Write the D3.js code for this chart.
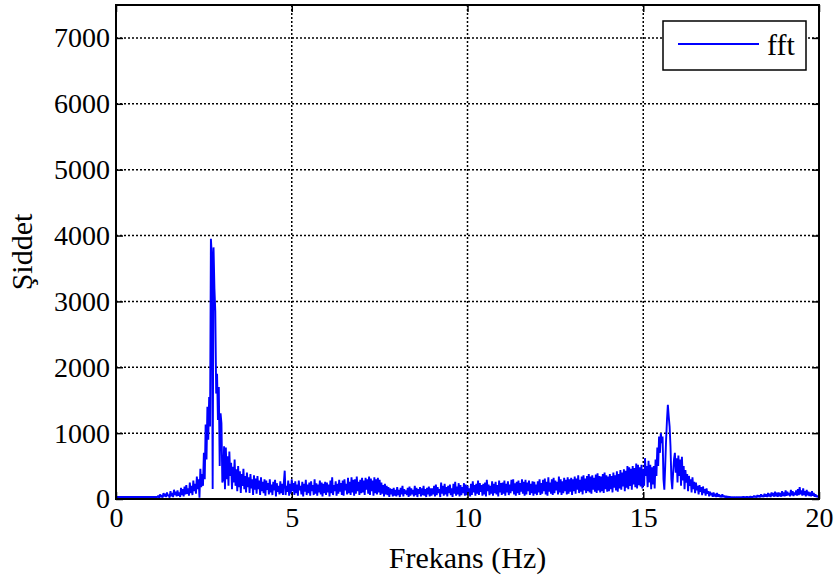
<!DOCTYPE html>
<html>
<head>
<meta charset="utf-8">
<script src="https://cdn.jsdelivr.net/npm/d3@7"></script>
<style>
  body { margin: 0; background: #fff; }
  svg { display: block; }
  text { font-family: "Liberation Serif", "Times New Roman", serif; fill: #000; }
</style>
</head>
<body>
<svg id="chart" width="836" height="575"></svg>
<script>
// spectrum sampled every 0.025 Hz, 40 values per Hz row
const freqStep = 0.025;
const magnitude = [
  30,30,30,30,30,30,30,30,30,30, 30,30,30,30,30,30,30,30,30,30, 30,30,30,30,30,30,30,30,30,30, 30,30,30,30,30,30,30,30,30,30,
  30,30,30,30,30,30,30,30,50,20, 70,30,60,20,90,40,80,30,100,50, 60,20,120,40,90,30,140,60,110,40, 130,50,100,30,170,60,150,40,190,70,
  210,80,160,50,250,90,200,60,280,120, 230,80,340,150,300,20,460,180,380,200, 700,300,1130,600,1400,900,1550,1100,3950,3700, 150,3820,3200,2850,1600,1900,1200,1700,500,1300,
  1150,250,300,800,150,780,300,650,200,720, 350,550,150,490,250,600,200,450,120,500, 180,420,90,380,200,460,150,350,100,400, 180,330,90,380,160,300,60,360,140,310,
  80,350,150,280,60,330,120,260,90,300, 50,280,140,240,70,300,100,220,60,260, 130,290,40,240,110,200,70,270,90,230, 60,250,430,60,200,110,280,50,230,80,
  300,120,240,60,270,90,220,50,280,130, 200,70,260,40,230,110,290,60,220,90, 250,50,270,120,210,60,300,80,240,50, 220,100,280,70,250,40,230,90,260,60,
  250,100,220,40,280,90,330,60,210,120, 270,50,230,80,290,110,240,60,280,50, 300,130,230,70,320,90,260,60,330,100, 290,50,300,80,340,120,260,60,290,90,
  320,100,280,60,320,140,300,80,340,60, 310,120,280,50,330,90,300,70,320,100, 290,60,250,80,210,40,230,70,200,60, 180,30,160,70,150,40,170,50,140,40,
  180,60,140,30,170,70,200,40,150,80, 130,60,170,30,190,50,160,70,140,40, 200,60,170,30,150,80,180,40,160,60, 200,50,150,30,170,70,190,40,160,50,
  160,70,200,40,220,60,180,90,150,30, 250,80,200,50,230,70,180,40,200,90, 220,60,160,30,230,80,260,50,190,70, 240,40,210,60,180,90,240,50,220,60,
  200,90,160,40,230,60,270,100,210,50, 230,80,280,60,240,110,210,50,230,70, 250,40,290,120,220,60,200,80,270,50, 230,90,260,70,210,40,280,100,240,60,
  250,80,280,50,230,100,270,60,220,90, 290,120,300,70,240,50,260,90,280,60, 240,110,300,80,260,50,290,70,250,120, 280,60,230,90,270,50,260,80,220,60,
  270,100,300,60,240,80,290,120,310,70, 260,50,330,110,250,80,300,60,320,90, 280,130,260,70,340,100,300,60,270,90, 320,120,290,70,330,80,300,110,320,60,
  300,120,340,80,310,140,360,90,290,110, 340,70,360,130,310,90,350,120,380,100, 340,80,360,140,320,110,370,90,390,130, 350,100,340,120,380,90,400,150,360,110,
  340,120,380,150,350,100,400,170,360,130, 420,110,380,160,440,140,400,190,450,120, 430,170,500,150,480,200,460,140,500,220, 470,180,540,160,520,210,480,190,520,160,
  450,200,620,350,500,180,580,250,520,150, 480,220,500,160,600,350,780,500,950,700, 1000,850,950,300,140,500,900,1200,1430,1250, 1100,800,300,150,400,600,700,400,620,250,
  660,350,600,200,640,280,500,150,440,250, 380,120,350,200,300,100,330,150,260,90, 250,130,200,70,210,110,180,60,190,90, 150,50,160,80,120,40,110,60,90,35,
  100,40,80,30,90,35,70,30,60,25, 70,30,50,25,45,25,40,25,35,25, 30,25,30,25,30,25,30,25,30,25, 30,25,30,25,35,25,30,25,35,25,
  30,25,40,25,35,25,50,30,45,25, 60,30,55,25,70,35,60,30,80,35, 70,30,90,40,80,30,100,45,90,35, 110,40,95,35,100,40,90,35,120,45,
  100,40,130,50,110,60,90,40,140,55, 120,45,100,60,130,50,150,60,180,70, 130,50,160,60,120,40,140,55,110,45, 100,40,120,50,90,35,70,30,50,30,
  30
];
const xTicks = [0, 5, 10, 15, 20];
const yTicks = [0, 1000, 2000, 3000, 4000, 5000, 6000, 7000];
const seriesName = "fft";

const svg = d3.select("#chart");
const plotLeft = 116, plotRight = 819, plotTop = 5, plotBottom = 499;
const serif = '"Liberation Serif", "Times New Roman", serif';

const x = d3.scaleLinear().domain([0, 20]).range([plotLeft, plotRight]);
const y = d3.scaleLinear().domain([0, 7500]).range([plotBottom, plotTop]);

svg.append("defs").append("clipPath").attr("id", "plotClip")
  .append("rect").attr("x", plotLeft).attr("y", plotTop)
  .attr("width", plotRight - plotLeft).attr("height", plotBottom - plotTop);

// dotted grid
const grid = svg.append("g");
grid.selectAll("line.gx")
  .data(xTicks.filter(d => d > 0 && d < 20))
  .enter().append("line")
  .attr("x1", d => x(d)).attr("x2", d => x(d))
  .attr("y1", plotTop).attr("y2", plotBottom)
  .attr("stroke", "#000").attr("stroke-width", 1.5)
  .attr("stroke-dasharray", "2,2");
grid.selectAll("line.gy")
  .data(yTicks.filter(d => d > 0))
  .enter().append("line")
  .attr("x1", plotLeft).attr("x2", plotRight)
  .attr("y1", d => y(d)).attr("y2", d => y(d))
  .attr("stroke", "#000").attr("stroke-width", 1.5)
  .attr("stroke-dasharray", "2,2");

// series
const line = d3.line()
  .x((d, i) => x(i * freqStep))
  .y(d => y(d));

svg.append("path")
  .datum(magnitude)
  .attr("clip-path", "url(#plotClip)")
  .attr("d", line)
  .attr("fill", "none")
  .attr("stroke", "#0000ff")
  .attr("stroke-width", 1.9)
  .attr("stroke-linejoin", "bevel");

// axes: inward ticks on all four sides
function styleAxis(g) {
  g.attr("font-family", serif).attr("font-size", 28);
  g.select(".domain").remove();
  g.selectAll(".tick line").attr("stroke", "#000").attr("stroke-width", 1.5);
  g.selectAll(".tick text").style("font-family", serif).style("font-size", "28px");
}

svg.append("g")
  .attr("transform", `translate(0,${plotBottom})`)
  .call(d3.axisBottom(x).tickValues(xTicks).tickSize(-7).tickPadding(8).tickFormat(d3.format("d")))
  .call(styleAxis);
svg.append("g")
  .attr("transform", `translate(0,${plotTop})`)
  .call(d3.axisTop(x).tickValues(xTicks).tickSize(-7).tickFormat(""))
  .call(styleAxis);
svg.append("g")
  .attr("transform", `translate(${plotLeft},0)`)
  .call(d3.axisLeft(y).tickValues(yTicks).tickSize(-7).tickPadding(6).tickFormat(d3.format("d")))
  .call(styleAxis);
svg.append("g")
  .attr("transform", `translate(${plotRight},0)`)
  .call(d3.axisRight(y).tickValues(yTicks).tickSize(-7).tickFormat(""))
  .call(styleAxis);

// frame
svg.append("rect")
  .attr("x", plotLeft).attr("y", plotTop)
  .attr("width", plotRight - plotLeft).attr("height", plotBottom - plotTop)
  .attr("fill", "none").attr("stroke", "#000").attr("stroke-width", 2);

// axis titles
svg.append("text")
  .attr("x", (plotLeft + plotRight) / 2).attr("y", 568)
  .attr("text-anchor", "middle")
  .style("font-size", "30px")
  .text("Frekans (Hz)");
svg.append("text")
  .attr("transform", `translate(32,${(plotTop + plotBottom) / 2}) rotate(-90)`)
  .attr("text-anchor", "middle")
  .style("font-size", "30px")
  .text("Şiddet");

// legend
const legend = svg.append("g");
legend.append("rect")
  .attr("x", 663).attr("y", 21).attr("width", 143).attr("height", 49)
  .attr("fill", "#fff").attr("stroke", "#000").attr("stroke-width", 1.5);
legend.append("line")
  .attr("x1", 678).attr("x2", 759).attr("y1", 44).attr("y2", 44)
  .attr("stroke", "#0000ff").attr("stroke-width", 1.8);
legend.append("text")
  .attr("x", 767).attr("y", 55)
  .style("font-size", "30px")
  .text(seriesName);
</script>
</body>
</html>
